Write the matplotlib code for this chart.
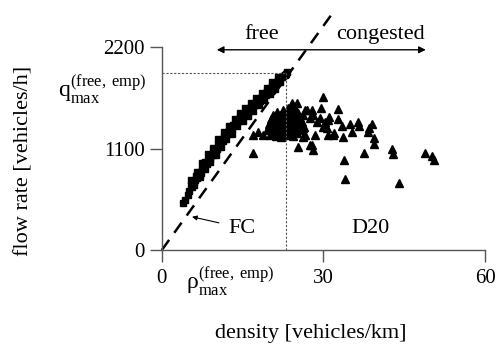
"""Flow-density diagram: free branch (FC) and congested branch (D20)."""
import matplotlib
matplotlib.use("Agg")
import matplotlib.pyplot as plt

plt.rcParams["font.family"] = ["Liberation Serif", "DejaVu Serif"]
plt.rcParams["mathtext.fontset"] = "custom"
plt.rcParams["mathtext.rm"] = "Liberation Serif"

# free-flow branch (squares), density [veh/km], flow [veh/h]
free_density = [
    3.9, 4.3, 4.8, 5.1, 5.4, 5.6, 5.9, 6.1, 6.3, 6.6, 6.8, 7.0, 7.2, 7.4, 7.6,
    7.9, 8.1, 8.3, 8.5, 8.8, 9.0, 9.3, 9.5, 9.8, 10.0, 10.3, 10.5, 10.8, 11.0,
    11.3, 11.5, 11.8, 12.0, 12.3, 12.5, 12.8, 13.0, 13.3, 13.5, 13.8, 14.0,
    14.3, 14.5, 14.8, 15.0, 15.3, 15.5, 15.8, 16.0, 16.3, 16.5, 16.8, 17.0,
    17.3, 17.5, 17.8, 18.0, 18.3, 18.5, 18.8, 19.0, 19.3, 19.5, 19.8, 20.0,
    20.3, 20.5, 20.8, 21.0, 21.3, 21.5, 21.8, 22.0, 22.3, 22.5, 22.8, 23.0, 23.2,
    6.0, 7.0, 8.0, 9.0, 10.0, 11.0, 12.0, 13.0, 14.0, 15.0, 16.0, 17.0, 18.0,
    19.0, 20.0, 21.0, 22.0,
    5.5, 6.5, 7.5, 8.5, 9.5, 10.5, 11.5, 12.5, 13.5, 14.5, 15.5, 16.5, 17.5,
    18.5, 19.5, 20.5, 21.5,
]
free_flow = [
    509, 540, 600, 640, 700, 680, 740, 760, 800, 780, 830, 850, 830, 880, 900,
    920, 950, 930, 980, 1000, 990, 1040, 1030, 1080, 1090, 1100, 1150, 1140, 1190,
    1180, 1230, 1220, 1250, 1280, 1270, 1320, 1310, 1350, 1370, 1360, 1410,
    1400, 1440, 1430, 1470, 1460, 1490, 1510, 1500, 1540, 1530, 1560, 1580,
    1570, 1600, 1610, 1630, 1620, 1660, 1670, 1690, 1680, 1720, 1720, 1750,
    1740, 1780, 1790, 1800, 1810, 1840, 1850, 1860, 1870, 1890, 1900, 1910, 1925,
    700, 790, 880, 950, 1030, 1120, 1200, 1260, 1340, 1400, 1450, 1510, 1570,
    1630, 1690, 1750, 1820,
    760, 850, 940, 1040, 1110, 1200, 1280, 1340, 1420, 1490, 1540, 1590, 1650,
    1700, 1760, 1820, 1880,
]

# congested branch (triangles)
cong_density = [
    19.6, 19.8, 20.0, 20.2, 20.3, 20.5, 20.6, 20.8, 21.0, 21.1, 21.2, 21.4,
    21.5, 21.7, 21.8, 22.0, 22.1, 22.2, 22.4, 22.5, 22.6, 22.8, 22.9, 23.0,
    23.1, 23.2, 23.4, 23.5, 23.6, 23.7, 23.8, 24.0, 24.1, 24.2, 24.4, 24.5,
    24.6, 24.8, 25.0, 25.1, 25.2, 25.4, 25.6, 25.8, 26.0, 26.2, 26.4, 20.4,
    21.3, 22.3, 23.3, 24.3, 25.3, 21.9, 22.7, 23.9, 20.9, 24.7, 24.1, 23.9,
    24.2, 25.0, 17.0, 18.8, 17.8, 16.9, 30.0, 29.5, 32.7, 32.7, 31.0, 33.5,
    35.0, 36.5, 36.6, 39.0, 38.5, 38.2, 33.6, 39.3, 39.4, 37.5, 33.8, 42.7,
    43.0, 48.9, 50.2, 50.6, 34.0, 44.0, 35.3, 32.0, 28.1, 27.9, 25.3, 30.9,
    29.9, 30.7, 27.0, 27.5, 28.8, 26.2, 26.6, 26.6, 27.9, 28.1, 29.4, 26.2,
    27.5, 26.0, 28.4, 30.3, 31.8, 30.9,
]
cong_flow = [
    1300, 1370, 1250, 1420, 1330, 1280, 1460, 1380, 1310, 1240, 1430, 1500,
    1350, 1270, 1400, 1460, 1320, 1230, 1380, 1520, 1290, 1440, 1350, 1250,
    1480, 1400, 1310, 1540, 1260, 1450, 1360, 1420, 1300, 1500, 1240, 1380,
    1460, 1330, 1410, 1270, 1490, 1350, 1430, 1300, 1390, 1460, 1330, 1390,
    1290, 1410, 1450, 1350, 1390, 1340, 1380, 1280, 1420, 1540, 1570, 1530,
    1593, 1593, 1246, 1246, 1279, 1050, 1658, 1540, 1528, 1420, 1441, 1344,
    1365, 1387, 1344, 1365, 1322, 1279, 1225, 1214, 1149, 1051, 975, 1095,
    1040, 1051, 1019, 975, 769, 726, 1279, 1268, 1084, 1138, 1116, 1409,
    1333, 1322, 1517, 1430, 1387, 1322, 1246, 1517, 1517, 1463, 1430, 1225,
    1138, 1333, 1246, 1387, 1246, 1246,
]

free_speed = 81.0        # slope of dashed free-flow line [km/h]
line_end_density = 32.2  # dashed line runs past the top of the axes
q_max = 1920             # q_max^(free, emp)
rho_max = 23.0           # rho_max^(free, emp)

fig = plt.figure(figsize=(4.98, 3.47), dpi=100)
ax = fig.add_axes([0.325, 0.2795, 0.649, 0.585])

ax.plot(free_density, free_flow, ls="none", marker="s", ms=3.8,
        color="black", mec="black")
ax.plot(cong_density, cong_flow, ls="none", marker="^", ms=5.2,
        color="black", mec="black")

# dashed free-flow line through the origin
ax.plot([0, line_end_density], [0, free_speed * line_end_density],
        color="black", lw=1.8, ls=(0, (5, 3.5)), clip_on=False)

# dotted guides at the empirical maximum
ax.plot([0, rho_max], [q_max, q_max], color="#555555", lw=0.8, ls=(0, (2, 1.5)))
ax.plot([rho_max, rho_max], [0, q_max], color="#555555", lw=0.8, ls=(0, (2, 1.5)))

ax.set_xlim(0, 60)
ax.set_ylim(0, 2200)
ax.set_xticks([0, 30, 60])
ax.set_yticks([0, 1100, 2200])
for s in ["top", "right"]:
    ax.spines[s].set_visible(False)
for s in ["left", "bottom"]:
    ax.spines[s].set_color("#555555")
    ax.spines[s].set_linewidth(1.0)
ax.tick_params(direction="out", length=8.5, width=1.0, color="#555555",
               labelsize=15, pad=4)
ax.tick_params(axis="x", pad=5)

# axis labels
fig.text(0.623, 0.04, "density [vehicles/km]", ha="center", va="center",
         fontsize=16)
fig.text(0.048, 0.535, "flow rate [vehicles/h]", ha="center", va="center",
         rotation=90, fontsize=16)

# special tick-like labels
ax.text(-2.9, q_max - 10,
        r"$\mathrm{q}_{\mathrm{max}}^{\mathrm{(free,}\,\mathrm{emp)}}$",
        ha="right", va="top", fontsize=17)
ax.text(rho_max - 2.0, -165,
        r"$\mathrm{\rho}_{\mathrm{max}}^{\mathrm{(free,}\,\mathrm{emp)}}$",
        ha="right", va="top", fontsize=17)

# free / congested arrow
ax.annotate("", xy=(10.2, 2170), xytext=(49.0, 2170),
            arrowprops=dict(arrowstyle="<|-|>", color="black", lw=1.0,
                            mutation_scale=10, shrinkA=0, shrinkB=0),
            annotation_clip=False)
ax.text(18.6, 2340, "free", ha="center", va="center", fontsize=16)
ax.text(40.5, 2340, "congested", ha="center", va="center", fontsize=16)

# branch labels
ax.annotate("FC", xy=(5.6, 360), xytext=(14.9, 238),
            ha="center", va="center", fontsize=16,
            arrowprops=dict(arrowstyle="-|>", color="black", lw=0.8,
                            mutation_scale=7, shrinkA=5, shrinkB=0))
ax.text(38.7, 238, "D20", ha="center", va="center", fontsize=16)

fig.savefig("out.png", dpi=100)
